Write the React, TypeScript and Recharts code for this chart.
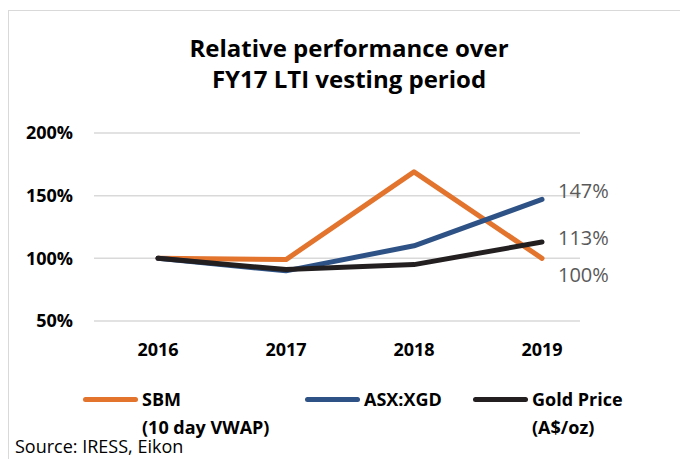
import React from 'react';
import { LineChart, Line, XAxis, YAxis, CartesianGrid, LabelList } from 'recharts';

// Data
const years = ['2016', '2017', '2018', '2019'];
const sbm = [100, 99, 169, 100];
const xgd = [100, 90, 110, 147];
const gold = [100, 91, 95, 113];
const yTicks = [50, 100, 150, 200];

const data = years.map((year, i) => ({ year, sbm: sbm[i], xgd: xgd[i], gold: gold[i] }));

const FONT = '"Open Sans", Lato, sans-serif';

const series = [
  { key: 'sbm', color: '#E2742E', name: 'SBM', sub: '(10 day VWAP)', dy: 16, left: 83 },
  { key: 'xgd', color: '#2E5285', name: 'ASX:XGD', sub: '', dy: -9, left: 305 },
  { key: 'gold', color: '#231F20', name: 'Gold Price', sub: '(A$/oz)', dy: -5, left: 473 },
];

// Label only at the last point
const endLabel = (dy: number) => (props: any) => {
  const { x, y, value, index } = props;
  if (index !== years.length - 1) return null;
  return (
    <text x={x + 16} y={y + dy} dominantBaseline="central" fill="#595959" fontSize={20} fontFamily={FONT}>
      {value}%
    </text>
  );
};

const LegendBox = () => (
  <div style={{ position: 'absolute', left: 0, top: 385, width: 680, height: 60, fontFamily: FONT, fontWeight: 700, fontSize: 18, color: '#000' }}>
    {series.map(s => (
      <div key={s.key} style={{ position: 'absolute', left: s.left, top: 0, display: 'flex' }}>
        <div style={{ width: 55, height: 5, borderRadius: 3, background: s.color, marginTop: 12, marginRight: 4 }} />
        <div style={{ lineHeight: '28px' }}>
          {s.name}
          {s.sub && <br />}
          {s.sub}
        </div>
      </div>
    ))}
  </div>
);

export default function App() {
  return (
    <div style={{ position: 'absolute', left: 0, top: 0, width: 680, height: 459, background: '#fff', overflow: 'hidden' }}>
      {/* chart border */}
      <div style={{ position: 'absolute', left: 8, top: 10, width: 700, height: 500, borderLeft: '1.5px solid #d9d9d9', borderTop: '1.5px solid #d9d9d9' }} />
      <div style={{ position: 'absolute', left: 0, top: 32, width: 698, textAlign: 'center', fontFamily: FONT, fontWeight: 700, fontSize: 24, lineHeight: '31px', color: '#000' }}>
        Relative performance over
        <br />
        FY17 LTI vesting period
      </div>
      <LineChart
        width={680}
        height={459}
        data={data}
        margin={{ top: 133, right: 100, bottom: 108, left: 0 }}
        style={{ position: 'absolute', left: 0, top: 0 }}
      >
        <CartesianGrid vertical={false} stroke="#d9d9d9" strokeWidth={1.5} />
        <XAxis
          dataKey="year"
          axisLine={false}
          tickLine={false}
          tickSize={0}
          tickMargin={22}
          padding={{ left: 64, right: 38 }}
          tick={{ fill: '#000', fontSize: 18, fontWeight: 700, fontFamily: FONT }}
        />
        <YAxis
          domain={[50, 200]}
          ticks={yTicks}
          width={94}
          axisLine={false}
          tickLine={false}
          tickSize={0}
          tickMargin={21}
          tickFormatter={(v: number) => `${v}%`}
          tick={{ fill: '#000', fontSize: 18, fontWeight: 700, fontFamily: FONT }}
        />
        {series.map(s => (
          <Line
            key={s.key}
            dataKey={s.key}
            name={s.name}
            stroke={s.color}
            strokeWidth={5}
            dot={false}
            strokeLinejoin="round"
            strokeLinecap="round"
            isAnimationActive={false}
          >
            <LabelList dataKey={s.key} content={endLabel(s.dy)} />
          </Line>
        ))}
      </LineChart>
      <LegendBox />
      <div style={{ position: 'absolute', left: 15, top: 436, fontFamily: FONT, fontSize: 18, lineHeight: '20px', color: '#000' }}>Source: IRESS, Eikon</div>
    </div>
  );
}
